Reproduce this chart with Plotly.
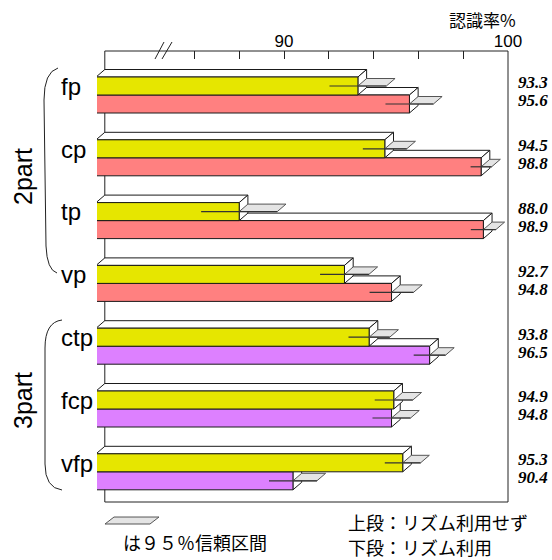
import plotly.graph_objects as go

# ---------------- data ----------------
categories = ["fp", "cp", "tp", "vp", "ctp", "fcp", "vfp"]
no_rhythm = [93.3, 94.5, 88.0, 92.7, 93.8, 94.9, 95.3]      # 上段：リズム利用せず
rhythm = [95.6, 98.8, 98.9, 94.8, 96.5, 94.8, 90.4]         # 下段：リズム利用
no_rhythm_ci = [1.27, 0.98, 1.70, 1.09, 0.92, 0.85, 0.80]   # 95% CI half width
rhythm_ci = [1.07, 0.47, 0.56, 0.98, 0.71, 0.85, 1.07]
group_names = ["2part", "3part"]
group_of = ["2part", "2part", "2part", "2part", "3part", "3part", "3part"]
tick_values = [86, 88, 90, 92, 94, 96, 98, 100]
tick_text = ["", "", "90", "", "", "", "", "100"]
axis_start = 82
axis_title = "認識率%"
legend_top = "上段：リズム利用せず"
legend_bottom = "下段：リズム利用"
ci_note = "は９５％信頼区間"

# ---------------- styling / geometry ----------------
W, H = 552, 560
L, R, T, B = 97, 509, 51, 502
PXU = 22.4          # px per % unit
PXK = 62.8          # px per category slot
X0 = 90 - (284 - L) / PXU
X1 = X0 + (R - L) / PXU
K0 = (T - 95) / PXK
K1 = K0 + (B - T) / PXK
DX = 8.7 / PXU      # depth offset (x)
DY = 7.5 / PXK      # depth offset (y)
BAR_H = 18 / PXK
BASE = axis_start - DX

YELLOW = "#e6e600"
COL2 = {"2part": "#ff8080", "3part": "#dd80ff"}
EDGE = "#1a1a1a"


def px_x(p):
    return (p - L) / (R - L)


def px_y(p):
    return (B - p) / (B - T)


def path(pts):
    return "M " + " L ".join(f"{x:.4f},{y:.4f}" for x, y in pts) + " Z"


ks = list(range(len(categories)))
y_up = [k - BAR_H / 2 for k in ks]
y_dn = [k + BAR_H / 2 for k in ks]

shapes = []
# frame (back plane)
shapes.append(dict(type="rect", xref="x", yref="paper", x0=axis_start, x1=100, y0=0, y1=1,
                   line=dict(color="#222", width=1), layer="below"))


def faces(v, yc):
    yt, yb = yc - BAR_H / 2, yc + BAR_H / 2
    top = [(BASE, yt), (v, yt), (v + DX, yt - DY), (BASE + DX, yt - DY)]
    side = [(v, yt), (v, yb), (v + DX, yb - DY), (v + DX, yt - DY)]
    return top, side


for k in ks:
    for v, yc in ((rhythm[k], y_dn[k]), (no_rhythm[k], y_up[k])):
        top, side = faces(v, yc)
        for poly in (top, side):
            shapes.append(dict(type="path", xref="x", yref="y", path=path(poly),
                               fillcolor="white", line=dict(color=EDGE, width=1), layer="below"))

fig = go.Figure()
fig.add_trace(go.Bar(orientation="h", y=y_dn, x=[v - BASE for v in rhythm], base=BASE,
                     width=BAR_H, marker=dict(color=[COL2[g] for g in group_of],
                                              line=dict(color=EDGE, width=1))))
fig.add_trace(go.Bar(orientation="h", y=y_up, x=[v - BASE for v in no_rhythm], base=BASE,
                     width=BAR_H, marker=dict(color=YELLOW, line=dict(color=EDGE, width=1))))

# confidence intervals
px_, py_, lx, ly = [], [], [], []
for vals, cis, ys in ((no_rhythm, no_rhythm_ci, y_up), (rhythm, rhythm_ci, y_dn)):
    for v, c, yc in zip(vals, cis, ys):
        u = v + c
        for x, y in [(v, yc), (u, yc), (u + DX, yc - DY), (v + DX, yc - DY), (v, yc)]:
            px_.append(x); py_.append(y)
        px_.append(None); py_.append(None)
        lx += [v - c, u, None]; ly += [yc, yc, None]
fig.add_trace(go.Scatter(x=px_, y=py_, mode="lines", fill="toself", fillcolor="#e4e4e4",
                         line=dict(color="#555", width=1), hoverinfo="skip"))
fig.add_trace(go.Scatter(x=lx, y=ly, mode="lines", line=dict(color="#333", width=1.2),
                         hoverinfo="skip"))

annotations = []
# value labels
for k in ks:
    for v, yc in ((no_rhythm[k], y_up[k]), (rhythm[k], y_dn[k])):
        annotations.append(dict(xref="paper", yref="y", x=px_x(516), y=yc - 0.05,
                                text=f"<b><i>{v:.1f}</i></b>", showarrow=False, xanchor="left",
                                yanchor="middle",
                                font=dict(family="Liberation Serif", size=17, color="black")))
# category labels
for k, c in zip(ks, categories):
    annotations.append(dict(xref="paper", yref="y", x=px_x(59), y=k - 0.14, text=c,
                            showarrow=False, xanchor="left", yanchor="middle",
                            font=dict(family="Liberation Sans", size=24, color="black")))
# group labels
for name, cy in zip(group_names, (177, 401)):
    annotations.append(dict(xref="paper", yref="paper", x=px_x(23), y=px_y(cy), text=name,
                            textangle=-90, showarrow=False, xanchor="center", yanchor="middle",
                            font=dict(family="Liberation Sans", size=25, color="black")))
cjk = "Noto Sans CJK JP"
annotations.append(dict(xref="paper", yref="paper", x=px_x(482), y=px_y(20), text=axis_title,
                        showarrow=False, xanchor="center", yanchor="middle",
                        font=dict(family=cjk, size=17, color="black")))
annotations.append(dict(xref="paper", yref="paper", x=px_x(346), y=px_y(522), text=legend_top,
                        showarrow=False, xanchor="left", yanchor="middle",
                        font=dict(family=cjk, size=18, color="black")))
annotations.append(dict(xref="paper", yref="paper", x=px_x(346), y=px_y(547), text=legend_bottom,
                        showarrow=False, xanchor="left", yanchor="middle",
                        font=dict(family=cjk, size=18, color="black")))
annotations.append(dict(xref="paper", yref="paper", x=px_x(121), y=px_y(542), text=ci_note,
                        showarrow=False, xanchor="left", yanchor="middle",
                        font=dict(family=cjk, size=18, color="black")))

# decorations: braces, axis break, CI legend symbol
brace2 = (f"M {px_x(58)},{px_y(68)} Q {px_x(44)},{px_y(72)} {px_x(44)},{px_y(100)} "
          f"L {px_x(46)},{px_y(246)} Q {px_x(47)},{px_y(270)} {px_x(57)},{px_y(273)}")
brace3 = (f"M {px_x(62)},{px_y(320)} Q {px_x(45)},{px_y(322)} {px_x(45)},{px_y(348)} "
          f"L {px_x(45)},{px_y(464)} Q {px_x(45)},{px_y(488)} {px_x(62)},{px_y(490)}")
for bp in (brace2, brace3):
    shapes.append(dict(type="path", xref="paper", yref="paper", path=bp,
                       line=dict(color="#222", width=1)))
for (a, b) in (((155, 59), (164, 42)), ((162, 59), (172, 42))):
    shapes.append(dict(type="line", xref="paper", yref="paper", x0=px_x(a[0]), y0=px_y(a[1]),
                       x1=px_x(b[0]), y1=px_y(b[1]), line=dict(color="#222", width=1)))
leg = [(105, 524), (150, 524), (159, 517), (114, 517)]
shapes.append(dict(type="path", xref="paper", yref="paper",
                   path=path([(px_x(a), px_y(b)) for a, b in leg]),
                   fillcolor="#e4e4e4", line=dict(color="#555", width=1)))

fig.update_layout(
    width=W, height=H, showlegend=False, barmode="overlay",
    margin=dict(l=L, r=W - R, t=T, b=H - B, autoexpand=False),
    plot_bgcolor="white", paper_bgcolor="white",
    shapes=shapes, annotations=annotations,
    xaxis=dict(range=[X0, X1], side="top", showgrid=False, zeroline=False, showline=False,
               ticks="inside", ticklen=8, tickcolor="#222", tickwidth=1,
               tickvals=tick_values, ticktext=tick_text,
               tickfont=dict(family="Liberation Sans", size=17, color="black")),
    yaxis=dict(range=[K1, K0], visible=False, showgrid=False, zeroline=False),
)
fig.write_html("out.html", config={"displayModeBar": False},
               post_script="document.body.style.margin='0';document.body.style.overflow='hidden';")
